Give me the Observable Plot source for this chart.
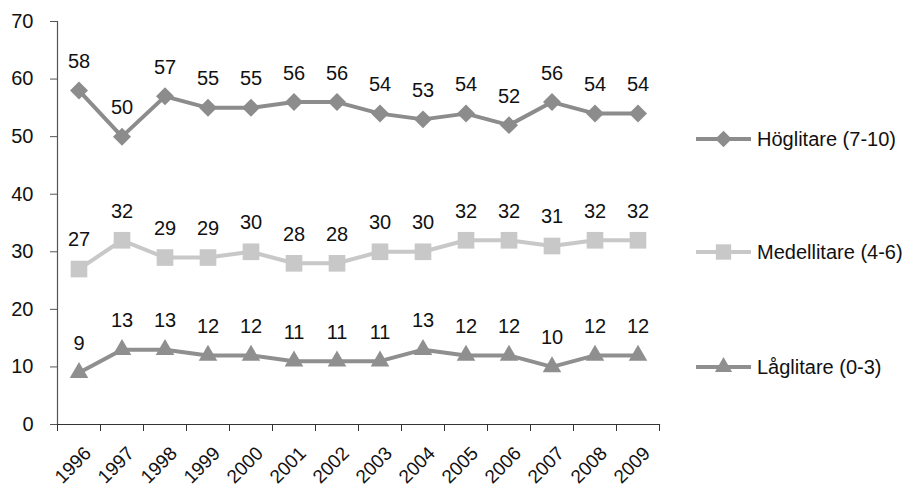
<!DOCTYPE html>
<html>
<head>
<meta charset="utf-8">
<script src="https://cdn.jsdelivr.net/npm/d3@7"></script>
<script src="https://cdn.jsdelivr.net/npm/@observablehq/plot@0.6"></script>
<style>
  html, body { margin: 0; padding: 0; background: #fff; }
  body { font-family: "Liberation Sans", Arial, sans-serif; }
  #wrap { position: relative; width: 920px; height: 487px; }
  #legend { position: absolute; left: 0; top: 0; }
  .item { position: absolute; display: flex; align-items: center; font-size: 20px; color: #111; white-space: nowrap; }
  .item svg { margin-right: 5px; }
</style>
</head>
<body>
<div id="wrap"><div id="chart"></div><div id="legend"></div></div>
<script>
const years = [1996, 1997, 1998, 1999, 2000, 2001, 2002, 2003, 2004, 2005, 2006, 2007, 2008, 2009];
const hoglitare = [58, 50, 57, 55, 55, 56, 56, 54, 53, 54, 52, 56, 54, 54];
const medellitare = [27, 32, 29, 29, 30, 28, 28, 30, 30, 32, 32, 31, 32, 32];
const laglitare = [9, 13, 13, 12, 12, 11, 11, 11, 13, 12, 12, 10, 12, 12];
const seriesNames = ["Höglitare (7-10)", "Medellitare (4-6)", "Låglitare (0-3)"];
const yTicks = [0, 10, 20, 30, 40, 50, 60, 70];

const seriesDefs = [
  {name: seriesNames[0], values: hoglitare, color: "#8c8c8c", symbol: "diamond2", r: 8.1},
  {name: seriesNames[1], values: medellitare, color: "#c8c8c8", symbol: "square", r: 9.4},
  {name: seriesNames[2], values: laglitare, color: "#8f8f8f", symbol: "triangle", r: 6.9}
];

const boundaries = years.map(y => y - 0.5).concat([years[years.length - 1] + 0.5]);

const marks = [
  Plot.frame({anchor: "left", stroke: "#555", strokeWidth: 1.2}),
  Plot.frame({anchor: "bottom", stroke: "#333", strokeWidth: 1.2}),
  Plot.axisY({ticks: yTicks, tickSize: 7, tickPadding: 17, fontSize: 20, stroke: "#555", color: "#111", label: null}),
  Plot.axisX({ticks: boundaries, tickSize: 7, tickFormat: () => "", stroke: "#333", label: null}),
  Plot.axisX({ticks: years, tickSize: 0, tickRotate: -45, tickFormat: d => String(d), fontSize: 19, textAnchor: "end", dx: 9, dy: 14, color: "#111", label: null})
];

for (const s of seriesDefs) {
  const rows = years.map((yr, i) => ({year: yr, value: s.values[i]}));
  marks.push(Plot.line(rows, {x: "year", y: "value", stroke: s.color, strokeWidth: 4}));
  marks.push(Plot.dot(rows, {x: "year", y: "value", symbol: () => s.symbol, r: s.r, fill: s.color, stroke: "none"}));
  marks.push(Plot.text(rows, {x: "year", y: "value", text: d => String(d.value), dy: -29, fontSize: 20, fill: "#111"}));
}

const chart = Plot.plot({
  width: 920,
  height: 487,
  marginLeft: 57,
  marginRight: 261,
  marginTop: 21,
  marginBottom: 63,
  style: {fontFamily: "'Liberation Sans', Arial, sans-serif", background: "#fff"},
  x: {type: "linear", domain: [boundaries[0], boundaries[boundaries.length - 1]]},
  y: {domain: [0, 70]},
  symbol: {type: "identity"},
  marks
});
document.getElementById("chart").appendChild(chart);

// Legend
const legendTops = [139, 252, 367];
const legend = d3.select("#legend");
seriesDefs.forEach((s, i) => {
  const item = legend.append("div").attr("class", "item")
    .style("left", "696px").style("top", (legendTops[i] - 14) + "px").style("height", "28px");
  const svg = item.append("svg").attr("width", 56).attr("height", 28);
  svg.append("line").attr("x1", 0).attr("x2", 55).attr("y1", 14).attr("y2", 14)
    .attr("stroke", s.color).attr("stroke-width", 4);
  const symMap = {diamond2: d3.symbolDiamond2, square: d3.symbolSquare, triangle: d3.symbolTriangle};
  svg.append("path").attr("transform", "translate(27.5,14)")
    .attr("d", d3.symbol(symMap[s.symbol], Math.PI * s.r * s.r * 0.85)())
    .attr("fill", s.color);
  item.append("span").text(s.name);
});
</script>
</body>
</html>
